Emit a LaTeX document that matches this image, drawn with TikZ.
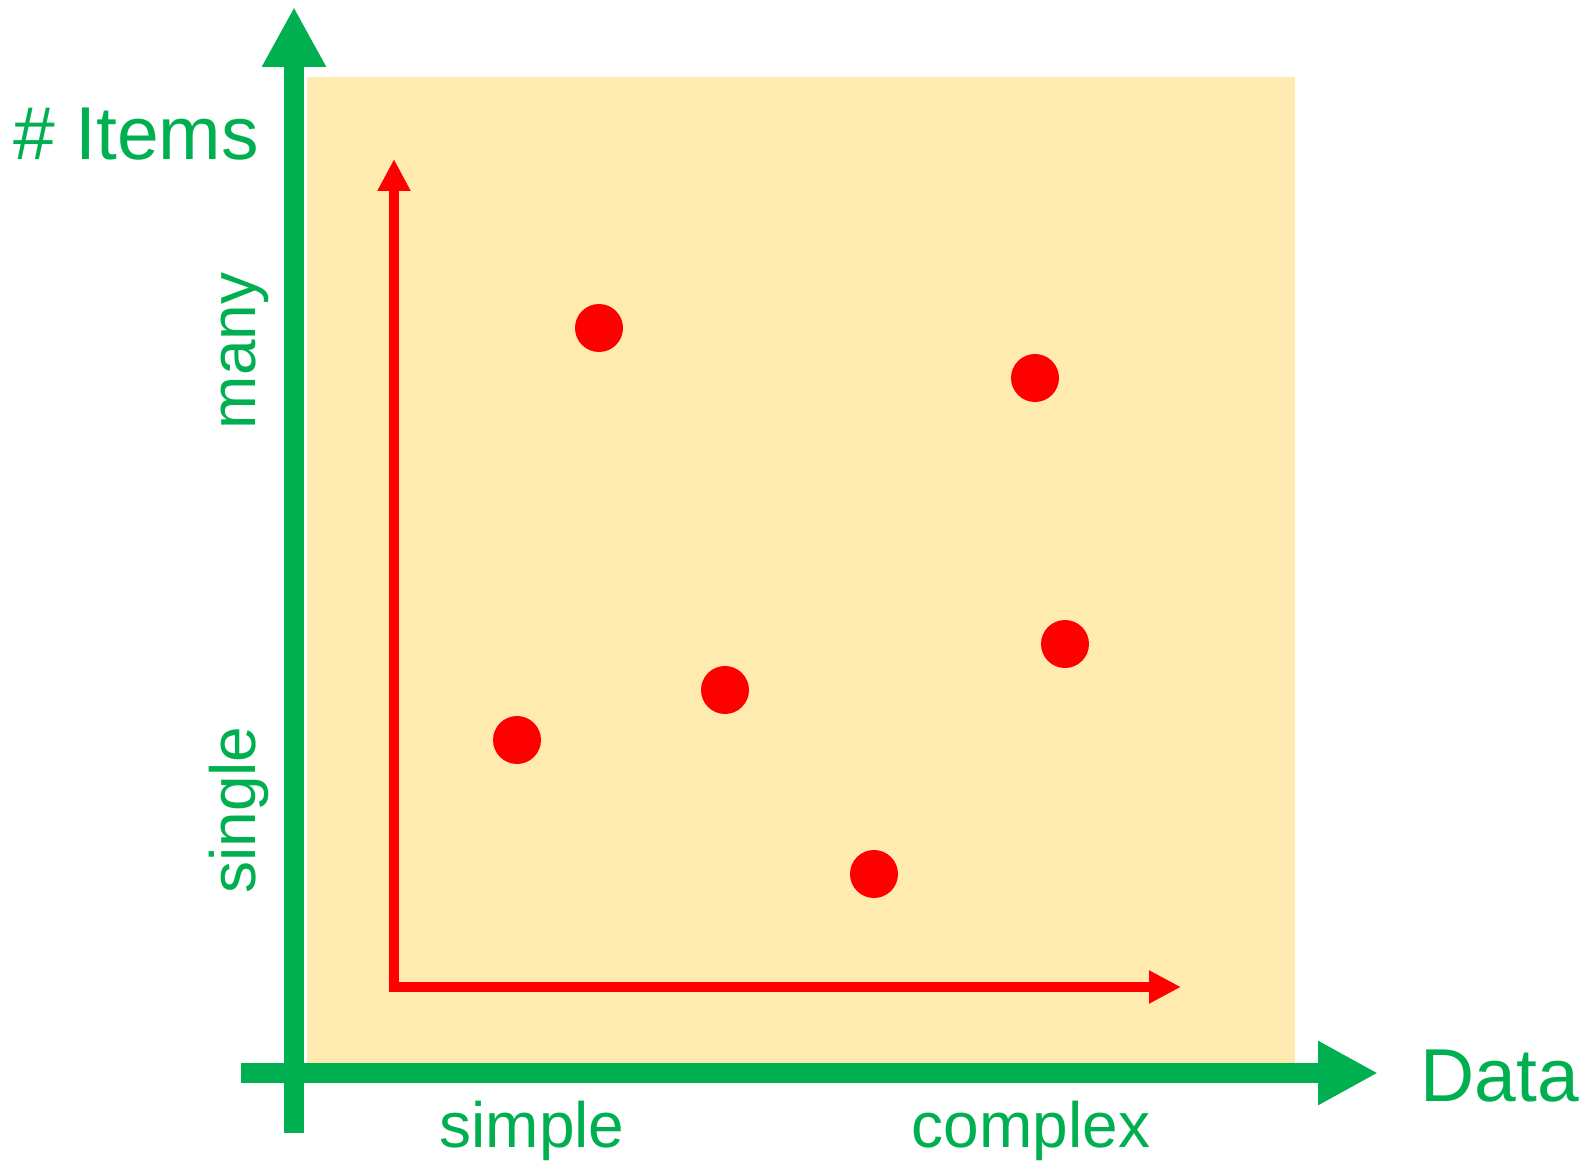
\documentclass[tikz,border=0pt]{standalone}
\usepackage{fontspec}
\setmainfont{Liberation Sans}
\usetikzlibrary{arrows.meta}
\definecolor{axisgreen}{HTML}{00B050}
\definecolor{areayellow}{HTML}{FFEBAF}
\tikzset{
  bigaxis/.style={axisgreen, line width=20pt, -{Triangle[width=60pt,length=60pt]}},
  smallaxis/.style={red, line width=10pt, line join=miter,
    {Triangle[width=31pt,length=32pt]}-{Triangle[width=31pt,length=32pt]}},
  dot/.style={circle, fill=red, minimum size=48pt, inner sep=0pt},
  biglabel/.style={text=axisgreen, font=\fontsize{75}{90}\selectfont, anchor=base},
  smalllabel/.style={text=axisgreen, font=\fontsize{64}{77}\selectfont, anchor=base}
}
\begin{document}
\begin{tikzpicture}[x=1pt, y=-1pt]
    \useasboundingbox (0,0) rectangle (1585,1161);

    % Fundo amarelo
    \fill[areayellow] (307,77) rectangle (1295,1065);

    % Pontos de referencia dos eixos
    \coordinate (ybottom) at (294,1133);
    \coordinate (ytop) at (294,7);
    \coordinate (xleft) at (241,1073);
    \coordinate (xright) at (1378,1073);
    \coordinate (redtop) at (394,159);
    \coordinate (redright) at (1181,987);

    % Eixos verdes
    \draw[bigaxis] (ybottom) -- (ytop);
    \draw[bigaxis] (xleft) -- (xright);

    % Eixos vermelhos
    \draw[smallaxis] (redtop) |- (redright);

    % Pontos
    \node[dot] (p1) at (599,328) {};
    \node[dot] (p2) at (1035,378) {};
    \node[dot] (p3) at (1065,644) {};
    \node[dot] (p4) at (725,690) {};
    \node[dot] (p5) at (517,740) {};
    \node[dot] (p6) at (874,874) {};

    % Rotulos dos eixos
    \node[biglabel] (items) at (136,160) {\# Items};
    \node[biglabel] (data) at (1500,1101) {Data};
    \node[smalllabel, rotate=90] (many) at (255,351) {many};
    \node[smalllabel, rotate=90] (single) at (255,810) {single};
    \node[smalllabel] (simple) at (532,1147) {simple};
    \node[smalllabel] (complex) at (1031,1147) {complex};
\end{tikzpicture}
\end{document}
